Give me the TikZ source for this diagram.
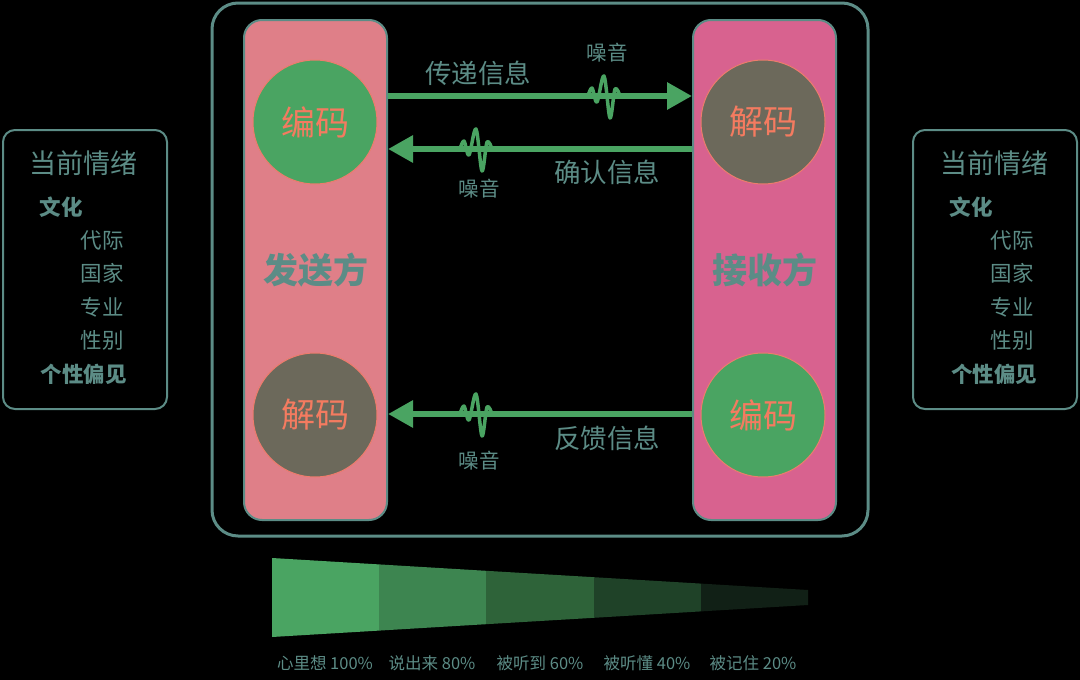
\documentclass[tikz,border=0pt]{standalone}
\usepackage{fontspec}
\setmainfont{Noto Sans CJK SC}
\usetikzlibrary{arrows.meta}
\definecolor{tl}{HTML}{5C8C86}
\definecolor{gr}{HTML}{4AA462}
\definecolor{gy}{HTML}{6C695B}
\definecolor{pkL}{HTML}{DF7F88}
\definecolor{pkR}{HTML}{D8628F}
\definecolor{cor}{HTML}{F47B60}
\definecolor{fA}{HTML}{4AA462}
\definecolor{fB}{HTML}{3D8550}
\definecolor{fC}{HTML}{2E6339}
\definecolor{fD}{HTML}{1F4228}
\definecolor{fE}{HTML}{112016}
\tikzset{
  fs/.style={font=\fontsize{#1}{#1}\selectfont},
  fsb/.style={font=\bfseries\fontsize{#1}{#1}\selectfont},
  party/.style={draw=tl, line width=2pt, rounded corners=18pt, minimum width=143pt, minimum height=500pt, inner sep=0pt},
  codec/.style={circle, draw=cor!70!pkL, line width=1pt, minimum size=124pt, inner sep=0pt, text=cor, fs=34},
  sidebox/.style={draw=tl, line width=2pt, rounded corners=12pt, minimum width=164pt, minimum height=279pt},
  lbl/.style={text=tl, inner sep=0pt},
  flow/.style={draw=gr, line width=6pt, -{Triangle[length=25pt,width=26pt]}},
  noise/.style={draw=gr, line width=3.5pt, line join=round, line cap=round},
}
\begin{document}
\begin{tikzpicture}[x=1pt,y=-1pt]
\fill[black] (0,0) rectangle (1080,680);
\useasboundingbox (0,0) rectangle (1080,680);

% outer frame
\node[draw=tl, line width=3pt, rounded corners=26pt, minimum width=656pt, minimum height=533pt] (outer) at (540,269.5) {};

% party boxes
\node[party, fill=pkL] (lbox) at (315.5,270) {};
\node[party, fill=pkR] (rbox) at (764.5,270) {};
\node[lbl, fsb=35] (send) at (315.5,270) {发送方};
\node[lbl, fsb=35] (recv) at (764.5,270) {接收方};

% codec circles
\node[codec, fill=gr] (enc1) at (315,122) {编码};
\node[codec, fill=gy] (dec1) at (315,415) {解码};
\node[codec, fill=gy] (dec2) at (763,122) {解码};
\node[codec, fill=gr] (enc2) at (763,415) {编码};

% arrows
\coordinate (y1) at (0,96);
\coordinate (y2) at (0,149);
\coordinate (y3) at (0,414);
\draw[flow] (lbox.east |- y1) -- (rbox.west |- y1);
\draw[flow] (rbox.west |- y2) -- (lbox.east |- y2);
\draw[flow] (rbox.west |- y3) -- (lbox.east |- y3);

% noise squiggles
\foreach \cx/\cy in {604/96, 476/149, 476/414}{
  \draw[noise] plot[smooth, tension=0.55] coordinates {
    (\cx-16,\cy) (\cx-12,\cy-8) (\cx-7,\cy+6) (\cx,\cy-20) (\cx+6,\cy+22) (\cx+11,\cy-7) (\cx+16,\cy)};
}

% arrow labels
\node[lbl, fs=26.5] (t1) at (478,73) {传递信息};
\node[lbl, fs=20.5] (n1) at (607,53) {噪音};
\node[lbl, fs=26.5] (t2) at (607,172) {确认信息};
\node[lbl, fs=20.5] (n2) at (479,189) {噪音};
\node[lbl, fs=26.5] (t3) at (607,438) {反馈信息};
\node[lbl, fs=20.5] (n3) at (479,461) {噪音};

% side boxes
\foreach \nm/\x in {L/85, R/995}{
  \node[sidebox] (side\nm) at (\x,269.5) {};
  \node[lbl, fs=27] (mood\nm) at (\x-1,163) {当前情绪};
  \node[lbl, fsb=21.5] (cult\nm) at (\x-24,207) {文化};
  \node[lbl, fs=21.5] (gen\nm) at (\x+17,240) {代际};
  \node[lbl, fs=21.5] (nat\nm) at (\x+17,273) {国家};
  \node[lbl, fs=21.5] (pro\nm) at (\x+17,307) {专业};
  \node[lbl, fs=21.5] (sex\nm) at (\x+17,340) {性别};
  \node[lbl, fsb=21.5] (bias\nm) at (\x-1,374) {个性偏见};
}

% funnel
\fill[fA] (272,558) -- (379,564.4) -- (379,630.6) -- (272,637) -- cycle;
\fill[fB] (379,564.4) -- (486,570.8) -- (486,624.2) -- (379,630.6) -- cycle;
\fill[fC] (486,570.8) -- (594,577.2) -- (594,617.8) -- (486,624.2) -- cycle;
\fill[fD] (594,577.2) -- (701,583.6) -- (701,611.4) -- (594,617.8) -- cycle;
\fill[fE] (701,583.6) -- (808,590) -- (808,605) -- (701,611.4) -- cycle;

\node[lbl, fs=16.5] (p1) at (325,663) {心里想 100\%};
\node[lbl, fs=16.5] (p2) at (432,663) {说出来 80\%};
\node[lbl, fs=16.5] (p3) at (540,663) {被听到 60\%};
\node[lbl, fs=16.5] (p4) at (647,663) {被听懂 40\%};
\node[lbl, fs=16.5] (p5) at (753,663) {被记住 20\%};
\end{tikzpicture}
\end{document}
